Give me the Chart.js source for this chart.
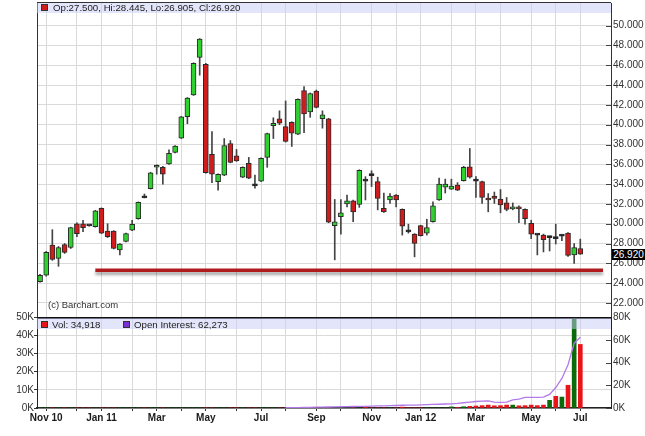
<!DOCTYPE html>
<html>
<head>
<meta charset="utf-8">
<script src="https://cdn.jsdelivr.net/npm/chart.js@4.4.0/dist/chart.umd.min.js"></script>
<style>
  body { margin: 0; background: #fff; font-family: "Liberation Sans", Arial, sans-serif; }
  #wrap { position: relative; width: 645px; height: 436px; overflow: hidden; }
  canvas { position: absolute; left: 0; }
  .band { position: absolute; left: 37px; width: 574px; background: rgba(200, 205, 245, 0.5); }
  .sq { position: absolute; width: 5px; height: 5px; border: 1px solid #333; }
  .txt { position: absolute; font-size: 9.7px; color: #222; white-space: nowrap; line-height: 11px; }
  #lastBox { position: absolute; left: 612px; width: 33px; height: 11px; background: #000; color: #fff;
             font-size: 10px; line-height: 11px; text-align: center; }
</style>
</head>
<body>
<div id="wrap">
  <canvas id="price" width="645" height="317" style="top:0"></canvas>
  <canvas id="vol" width="645" height="136" style="top:300px"></canvas>

  <div class="band" style="top:3px;height:10px"></div>
  <div class="sq" style="left:41px;top:4px;background:#d01c1c"></div>
  <div class="txt" id="ohlc" style="left:53px;top:2px"></div>
  <div class="txt" style="left:48px;top:299px;font-size:9.5px;color:#333">(c) Barchart.com</div>

  <div class="band" style="top:318px;height:11px"></div>
  <div class="sq" style="left:41px;top:321px;background:#e8141a"></div>
  <div class="txt" id="volTxt" style="left:52px;top:319px"></div>
  <div class="sq" style="left:123px;top:321px;background:#7a2fd0"></div>
  <div class="txt" id="oiTxt" style="left:134px;top:319px"></div>

  <div id="lastBox"></div>
</div>

<script>
// WEEKLY BARS, INDEX 0 = WEEK OF OCT 25 2010, LAST = WEEK OF JUL 2 2012
const opens = [
  24.15, 24.8, 27.85, 26.5, 27.9, 27.6, 30.0, 30.0, 29.8, 29.7,
  31.55, 29.25, 29.25, 27.35, 28.2, 29.35, 30.5, 32.65, 33.55, 35.7,
  35.7, 36.05, 37.2, 38.65, 40.8, 43.0, 46.8, 46.1, 37.0, 34.25,
  34.9, 38.1, 36.85, 34.7, 36.1, 33.85, 34.3, 36.7, 39.9, 40.6,
  39.8, 40.25, 39.05, 43.45, 41.3, 43.4, 40.6, 40.6, 29.8, 30.7,
  32.0, 32.3, 31.95, 34.35, 34.9, 34.25, 31.55, 32.4, 32.9, 31.45,
  29.2, 28.95, 29.8, 29.05, 30.2, 32.4, 33.7, 33.5, 33.9, 34.35,
  35.75, 34.35, 34.25, 32.6, 32.8, 32.5, 32.1, 31.5, 31.65, 31.45,
  30.05, 28.9, 28.85, 28.6, 28.55, 28.75, 29.05, 26.85, 27.5
];
const highs = [
  24.9, 27.2, 29.4, 27.7, 28.0, 29.65, 30.1, 30.35, 29.85, 31.35,
  31.6, 30.0, 29.3, 28.0, 29.05, 30.35, 32.2, 33.0, 35.2, 35.95,
  35.8, 37.45, 37.9, 40.85, 42.75, 46.25, 48.7, 46.2, 39.3, 35.05,
  38.6, 38.4, 37.5, 35.75, 36.7, 34.9, 36.65, 39.15, 40.7, 41.4,
  42.4, 40.3, 42.6, 43.85, 43.2, 43.5, 41.4, 40.65, 32.45, 32.45,
  32.9, 32.4, 35.45, 34.75, 35.35, 34.7, 33.1, 33.05, 32.95, 31.5,
  29.95, 29.0, 29.85, 30.45, 32.2, 34.6, 34.5, 34.5, 34.15, 35.8,
  37.6, 34.75, 34.3, 33.05, 33.2, 33.45, 32.65, 32.1, 31.8, 31.5,
  30.35, 28.95, 28.95, 28.75, 29.95, 28.9, 29.1, 28.0, 28.445
];
const lows = [
  24.1, 24.7, 26.3, 25.7, 27.0, 27.5, 28.7, 29.2, 29.75, 29.65,
  29.0, 28.6, 27.45, 26.85, 28.15, 29.3, 30.45, 32.6, 33.5, 35.0,
  34.0, 36.0, 37.15, 38.6, 40.1, 42.95, 45.0, 35.1, 34.15, 33.4,
  34.85, 36.15, 36.3, 34.65, 34.55, 33.6, 34.25, 35.7, 38.6, 40.0,
  38.25, 37.8, 39.0, 39.2, 40.75, 41.7, 39.65, 30.1, 26.35, 28.95,
  31.7, 30.2, 31.65, 32.4, 33.75, 31.4, 31.15, 32.05, 31.7, 28.85,
  29.05, 26.65, 28.75, 28.85, 30.15, 32.35, 33.1, 33.45, 33.35, 34.3,
  34.6, 32.65, 32.05, 31.2, 32.05, 31.1, 31.3, 31.4, 30.1, 29.95,
  28.5, 26.85, 27.15, 27.25, 27.95, 28.3, 26.7, 26.0, 26.905
];
const closes = [
  24.8, 27.1, 26.4, 27.6, 27.1, 29.6, 29.0, 29.6, 29.78, 31.3,
  29.05, 28.7, 27.5, 27.95, 29.0, 29.95, 32.15, 32.62, 35.15, 35.9,
  35.0, 37.1, 37.85, 40.8, 42.7, 46.2, 48.65, 35.15, 35.0, 35.0,
  37.9, 36.2, 36.35, 35.7, 34.6, 33.82, 36.6, 39.1, 40.15, 40.15,
  38.3, 39.15, 42.55, 41.1, 43.15, 41.75, 41.0, 30.15, 30.2, 31.1,
  32.3, 31.2, 35.4, 34.3, 34.85, 32.55, 31.2, 32.8, 32.4, 29.75,
  29.18, 28.0, 28.8, 29.6, 31.8, 34.0, 34.0, 33.8, 33.4, 35.7,
  34.7, 34.3, 32.65, 32.4, 32.55, 31.9, 31.45, 31.7, 31.5, 30.5,
  28.95, 28.85, 28.4, 28.6, 28.5, 28.8, 26.8, 27.6, 26.92
];
// VOLUME (CONTRACTS) - NEARLY NOTHING BEFORE 2012
const volumes = [
  0, 0, 0, 0, 0, 0, 0, 0, 0, 0,
  0, 0, 0, 0, 0, 0, 0, 0, 0, 0,
  0, 0, 0, 0, 0, 0, 0, 0, 0, 0,
  0, 0, 0, 0, 0, 0, 0, 0, 0, 0,
  0, 0, 0, 0, 0, 0, 0, 0, 0, 0,
  0, 0, 0, 500, 0, 0, 0, 0, 0, 500,
  0, 0, 0, 0, 0, 0, 0, 600, 300, 700,
  900, 1100, 1300, 1600, 1200, 1300, 1600, 1600, 1200, 1300,
  1600, 1300, 1600, 4200, 6400, 6000, 12500, 65000, 34918
];
// OPEN INTEREST STARTS AROUND AUG 2011
const openInterest = [
  null, null, null, null, null, null, null, null, null, null,
  null, null, null, null, null, null, null, null, null, null,
  null, null, null, null, null, null, null, null, null, null,
  null, null, null, null, null, null, null, null, null, null,
  200, 300, 400, 500, 600, 700, 800, 900, 1000, 1100,
  1200, 1300, 1400, 1500, 1700, 1800, 1900, 2000, 2200, 2400,
  2500, 2600, 2700, 2900, 3100, 3300, 3500, 3600, 4000, 4600,
  5200, 5700, 6000, 6300, 5200, 5000, 5200, 7200, 7800, 9300,
  9400, 9300, 9500, 12000, 18000, 26000, 38000, 57000, 62273
];

// MONTH GRIDLINES (WEEK INDEX OF FIRST BAR IN EACH MONTH)
const monthWeeks = [1, 6, 10, 15, 19, 23, 27, 32, 36, 40, 45, 49, 54, 58, 62, 67, 71, 75, 80, 84, 88];
const monthLabels = ["Nov 10", "", "Jan 11", "", "Mar", "", "May", "", "Jul", "", "Sep", "",
                     "Nov", "", "Jan 12", "", "Mar", "", "May", "", "Jul"];
const priceTicks = [22, 24, 26, 28, 30, 32, 34, 36, 38, 40, 42, 44, 46, 48, 50];

// SUPPORT LINE
const supportLevel = 25.3;
const supportFrom = 9;
const supportTo = 91.7;

const GREEN = "#2fd12f";
const RED = "#d01c1c";
const FONT = "'Liberation Sans', Arial, sans-serif";

const weeks = opens.map((o, i) => i);
const bodyColors = weeks.map((i) => {
  if (Math.abs(closes[i] - opens[i]) < 0.06) return "#111";
  return closes[i] > opens[i] ? GREEN : RED;
});
const volColors = weeks.map((i) => (closes[i] >= opens[i] ? "#0b6b0b" : "#e8141a"));

// inward tick marks on a right hand axis
const innerTicks = {
  id: "innerTicks",
  afterDraw(chart, args, opts) {
    const ctx = chart.ctx;
    ctx.save();
    ctx.strokeStyle = "#444";
    ctx.lineWidth = 1;
    (opts.axes || []).forEach((id) => {
      const s = chart.scales[id];
      s.ticks.forEach((t) => {
        const y = Math.round(s.getPixelForValue(t.value)) + 0.5;
        ctx.beginPath();
        ctx.moveTo(s.left - 5, y);
        ctx.lineTo(s.left, y);
        ctx.stroke();
      });
    });
    ctx.restore();
  },
};

// top / left frame of the plot
const frame = {
  id: "frame",
  afterDraw(chart, args, opts) {
    const a = chart.chartArea;
    const ctx = chart.ctx;
    ctx.save();
    ctx.strokeStyle = opts.color || "#222";
    if (opts.top) {
      const y = a.top - opts.top / 2 + (opts.inside ? opts.top : 0);
      ctx.lineWidth = opts.top;
      ctx.beginPath();
      ctx.moveTo(a.left, y);
      ctx.lineTo(a.right, y);
      ctx.stroke();
    }
    if (opts.left) {
      ctx.lineWidth = 1;
      ctx.beginPath();
      ctx.moveTo(a.left + 0.5, a.top);
      ctx.lineTo(a.left + 0.5, a.bottom);
      ctx.stroke();
    }
    ctx.restore();
  },
};

// soft shadow under the support line
const lineShadow = {
  id: "lineShadow",
  beforeDatasetDraw(chart, args) {
    if (!chart.data.datasets[args.index].shadow) return;
    const ctx = chart.ctx;
    ctx.save();
    ctx.shadowColor = "rgba(0,0,0,0.35)";
    ctx.shadowBlur = 3;
    ctx.shadowOffsetY = 3;
  },
  afterDatasetDraw(chart, args) {
    if (!chart.data.datasets[args.index].shadow) return;
    chart.ctx.restore();
  },
};

// no label overflow padding, the axes sit exactly on the plot edges
const noPad = (s) => {
  s.paddingTop = 0;
  s.paddingBottom = 0;
  s.paddingLeft = 0;
  s.paddingRight = 0;
};

const xBase = {
  type: "linear",
  min: -0.5,
  max: 93,
  offset: false,
  afterBuildTicks: (s) => {
    s.ticks = monthWeeks.map((v) => ({ value: v }));
  },
};

// PRICE CHART
const priceChart = new Chart(document.getElementById("price"), {
  type: "bar",
  data: {
    datasets: [
      {
        type: "line",
        data: [
          { x: supportFrom, y: supportLevel },
          { x: supportTo, y: supportLevel },
        ],
        borderColor: "#b01c1e",
        borderWidth: 3.5,
        pointRadius: 0,
        shadow: true,
        order: 0,
      },
      {
        data: weeks.map((i) => ({ x: i, y: [opens[i], closes[i]] })),
        backgroundColor: bodyColors,
        borderColor: "#2a2a2a",
        borderWidth: 1,
        borderSkipped: false,
        barThickness: 5,
        minBarLength: 2,
        grouped: false,
        order: 1,
      },
      {
        data: weeks.map((i) => ({ x: i, y: [lows[i], highs[i]] })),
        backgroundColor: "#444",
        barThickness: 1,
        grouped: false,
        order: 2,
      },
    ],
  },
  options: {
    responsive: false,
    animation: false,
    layout: { padding: { left: 37, top: 3, right: 0, bottom: 0 } },
    plugins: {
      legend: { display: false },
      tooltip: { enabled: false },
      innerTicks: { axes: ["y"] },
      frame: { color: "#333", top: 1, left: true },
    },
    scales: {
      x: {
        ...xBase,
        ticks: { display: false },
        grid: { color: "#dadada", drawTicks: false, offset: false },
        border: { display: false },
        afterFit: (s) => {
          s.height = 0;
          noPad(s);
        },
      },
      y: {
        position: "right",
        min: 20.58,
        max: 52.29,
        afterBuildTicks: (s) => {
          s.ticks = priceTicks.map((v) => ({ value: v }));
        },
        ticks: {
          callback: (v) => Number(v).toFixed(3),
          font: { size: 10, family: FONT },
          color: "#333",
          padding: 2,
        },
        grid: { color: "#dadada", drawTicks: false },
        border: { color: "#333" },
        afterFit: (s) => {
          s.width = 34;
          noPad(s);
        },
      },
    },
  },
  plugins: [innerTicks, frame, lineShadow],
});

// VOLUME / OPEN INTEREST CHART
const volChart = new Chart(document.getElementById("vol"), {
  type: "bar",
  data: {
    datasets: [
      {
        type: "line",
        data: weeks.map((i) => ({ x: i, y: openInterest[i] })),
        yAxisID: "yo",
        borderColor: "#b27ae8",
        borderWidth: 1.3,
        pointRadius: 0,
        spanGaps: false,
        order: 0,
      },
      {
        data: weeks.map((i) => ({ x: i, y: volumes[i] })),
        yAxisID: "yv",
        backgroundColor: volColors,
        barThickness: 4,
        grouped: false,
        order: 1,
      },
    ],
  },
  options: {
    responsive: false,
    animation: false,
    layout: { padding: { left: 0, top: 17, right: 0, bottom: 0 } },
    plugins: {
      legend: { display: false },
      tooltip: { enabled: false },
      innerTicks: { axes: ["yo"] },
      frame: { color: "#111", top: 2, inside: true },
    },
    scales: {
      x: {
        ...xBase,
        ticks: {
          callback: (v) => monthLabels[monthWeeks.indexOf(v)] || "",
          autoSkip: false,
          maxRotation: 0,
          font: { size: 10, weight: "bold", family: FONT },
          color: "#1a1a1a",
          padding: 1,
        },
        grid: { color: "#dadada", tickColor: "#333", tickLength: 3, offset: false },
        border: { color: "#222", width: 1.5 },
        afterFit: (s) => {
          s.height = 28;
          noPad(s);
        },
      },
      yv: {
        position: "left",
        min: 0,
        max: 50000,
        ticks: {
          stepSize: 10000,
          callback: (v) => v / 1000 + "K",
          font: { size: 10, family: FONT },
          color: "#333",
          padding: 0,
        },
        grid: { color: "#dadada", tickColor: "#333", tickLength: 3 },
        border: { color: "#222" },
        afterFit: (s) => {
          s.width = 37;
          noPad(s);
        },
      },
      yo: {
        position: "right",
        min: 0,
        max: 80000,
        ticks: {
          stepSize: 20000,
          callback: (v) => v / 1000 + "K",
          font: { size: 10, family: FONT },
          color: "#333",
          padding: 2,
        },
        grid: { drawOnChartArea: false, drawTicks: false },
        border: { color: "#222" },
        afterFit: (s) => {
          s.width = 34;
          noPad(s);
        },
      },
    },
  },
  plugins: [innerTicks, frame],
});

// LEGEND TEXTS
const last = opens.length - 1;
document.getElementById("ohlc").textContent =
  `Op:${opens[last].toFixed(3)}, Hi:${highs[last].toFixed(3)}, Lo:${lows[last].toFixed(3)}, Cl:${closes[last].toFixed(3)}`;
document.getElementById("volTxt").textContent = `Vol: ${volumes[last].toLocaleString("en-US")}`;
document.getElementById("oiTxt").textContent = `Open Interest: ${openInterest[last].toLocaleString("en-US")}`;

const lastBox = document.getElementById("lastBox");
lastBox.textContent = closes[last].toFixed(3);
lastBox.style.top = Math.round(priceChart.scales.y.getPixelForValue(closes[last]) - 5.5) + "px";
</script>
</body>
</html>
